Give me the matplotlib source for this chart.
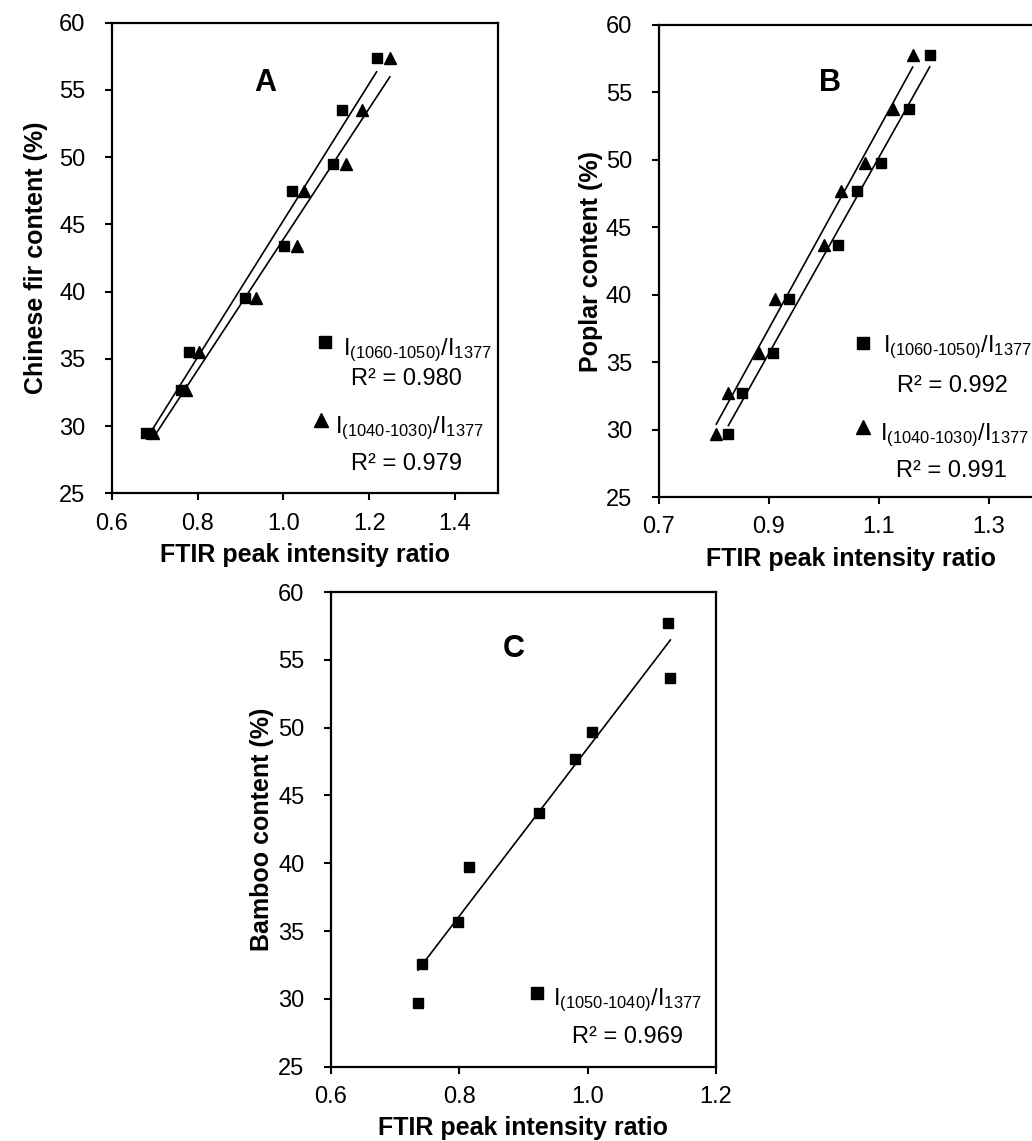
import numpy as np
import matplotlib
matplotlib.use('Agg')
import matplotlib.pyplot as plt

plt.rcParams['font.family'] = ['Liberation Sans', 'DejaVu Sans']
plt.rcParams['mathtext.fontset'] = 'custom'
plt.rcParams['mathtext.rm'] = 'Liberation Sans'
plt.rcParams['mathtext.it'] = 'Liberation Sans'

# panel A - Chinese fir
a_content = [57.4, 53.5, 49.5, 47.5, 43.4, 39.5, 35.5, 32.7, 29.5]
a_sq_x = [1.217, 1.136, 1.116, 1.020, 1.002, 0.910, 0.781, 0.762, 0.681]
a_tri_x = [1.248, 1.184, 1.146, 1.048, 1.031, 0.937, 0.803, 0.773, 0.696]

# panel B - poplar
b_content = [57.8, 53.75, 49.75, 47.7, 43.65, 39.7, 35.65, 32.7, 29.7]
b_sq_x = [1.193, 1.155, 1.105, 1.060, 1.027, 0.937, 0.908, 0.851, 0.827]
b_tri_x = [1.162, 1.126, 1.075, 1.031, 1.001, 0.912, 0.882, 0.826, 0.805]

# panel C - bamboo
c_content = [57.7, 53.7, 49.7, 47.7, 43.7, 39.7, 35.7, 32.6, 29.7]
c_sq_x = [1.125, 1.129, 1.007, 0.980, 0.924, 0.815, 0.798, 0.742, 0.736]

lbl_a1 = r'I$_{(1060\text{-}1050)}$/I$_{1377}$'
lbl_a2 = r'I$_{(1040\text{-}1030)}$/I$_{1377}$'
lbl_c1 = r'I$_{(1050\text{-}1040)}$/I$_{1377}$'

fig = plt.figure(figsize=(10.32, 11.41), dpi=100)
ax_a = fig.add_axes([0.1082, 0.5677, 0.3744, 0.4124])
ax_b = fig.add_axes([0.6381, 0.5644, 0.3731, 0.4137])
ax_c = fig.add_axes([0.3204, 0.0651, 0.3734, 0.4160])


def fit_line(ax, x, y):
    k, b = np.polyfit(x, y, 1)
    xx = np.array([min(x), max(x)])
    ax.plot(xx, k * xx + b, color='black', lw=1.2, zorder=2)


def style_axes(ax, xlim, xticks, xticklabels, ylabel, ypad):
    ax.set_xlim(*xlim)
    ax.set_ylim(25, 60)
    ax.set_xticks(xticks)
    ax.set_xticklabels(xticklabels)
    ax.set_yticks(range(25, 61, 5))
    for s in ax.spines.values():
        s.set_linewidth(1.6)
    ax.tick_params(axis='both', direction='out', length=5, width=1.5, labelsize=17)
    ax.tick_params(axis='y', pad=14)
    ax.tick_params(axis='x', pad=9)
    ax.set_xlabel('FTIR peak intensity ratio', fontsize=18, fontweight='bold', labelpad=6)
    ax.set_ylabel(ylabel, fontsize=18, fontweight='bold', labelpad=ypad)


# A
fit_line(ax_a, a_sq_x, a_content)
fit_line(ax_a, a_tri_x, a_content)
ax_a.plot(a_sq_x, a_content, 's', color='black', ms=7.2, zorder=3)
ax_a.plot(a_tri_x, a_content, '^', color='black', ms=8, zorder=3)
style_axes(ax_a, (0.6, 1.5), [0.6, 0.8, 1.0, 1.2, 1.4], ['0.6', '0.8', '1.0', '1.2', '1.4'],
           'Chinese fir content (%)', 8)
ax_a.text(0.397, 0.872, 'A', transform=ax_a.transAxes, fontsize=22, fontweight='bold', ha='center', va='center')
ax_a.plot([0.552], [0.3215], 's', color='black', ms=9, transform=ax_a.transAxes, clip_on=False)
ax_a.text(0.599, 0.294, lbl_a1, transform=ax_a.transAxes, fontsize=17, va='baseline')
ax_a.text(0.763, 0.230, 'R² = 0.980', transform=ax_a.transAxes, fontsize=17, ha='center', va='baseline')
ax_a.plot([0.543], [0.156], '^', color='black', ms=9.5, transform=ax_a.transAxes, clip_on=False)
ax_a.text(0.578, 0.128, lbl_a2, transform=ax_a.transAxes, fontsize=17, va='baseline')
ax_a.text(0.763, 0.0495, 'R² = 0.979', transform=ax_a.transAxes, fontsize=17, ha='center', va='baseline')

# B
fit_line(ax_b, b_sq_x, b_content)
fit_line(ax_b, b_tri_x, b_content)
ax_b.plot(b_sq_x, b_content, 's', color='black', ms=7.2, zorder=3)
ax_b.plot(b_tri_x, b_content, '^', color='black', ms=8, zorder=3)
style_axes(ax_b, (0.7, 1.4), [0.7, 0.9, 1.1, 1.3], ['0.7', '0.9', '1.1', '1.3'],
           'Poplar content (%)', 2)
ax_b.text(0.445, 0.877, 'B', transform=ax_b.transAxes, fontsize=22, fontweight='bold', ha='center', va='center')
ax_b.plot([0.532], [0.3256], 's', color='black', ms=9, transform=ax_b.transAxes, clip_on=False)
ax_b.text(0.584, 0.308, lbl_a1, transform=ax_b.transAxes, fontsize=17, va='baseline')
ax_b.text(0.764, 0.223, 'R² = 0.992', transform=ax_b.transAxes, fontsize=17, ha='center', va='baseline')
ax_b.plot([0.532], [0.1477], '^', color='black', ms=9.5, transform=ax_b.transAxes, clip_on=False)
ax_b.text(0.575, 0.121, lbl_a2, transform=ax_b.transAxes, fontsize=17, va='baseline')
ax_b.text(0.762, 0.043, 'R² = 0.991', transform=ax_b.transAxes, fontsize=17, ha='center', va='baseline')

# C
fit_line(ax_c, c_sq_x, c_content)
ax_c.plot(c_sq_x, c_content, 's', color='black', ms=7.2, zorder=3)
style_axes(ax_c, (0.6, 1.2), [0.6, 0.8, 1.0, 1.2], ['0.6', '0.8', '1.0', '1.2'],
           'Bamboo content (%)', 3)
ax_c.text(0.476, 0.880, 'C', transform=ax_c.transAxes, fontsize=22, fontweight='bold', ha='center', va='center')
ax_c.plot([0.535], [0.1546], 's', color='black', ms=9, transform=ax_c.transAxes, clip_on=False)
ax_c.text(0.578, 0.130, lbl_c1, transform=ax_c.transAxes, fontsize=17, va='baseline')
ax_c.text(0.770, 0.049, 'R² = 0.969', transform=ax_c.transAxes, fontsize=17, ha='center', va='baseline')

fig.savefig('out.png', dpi=100)
